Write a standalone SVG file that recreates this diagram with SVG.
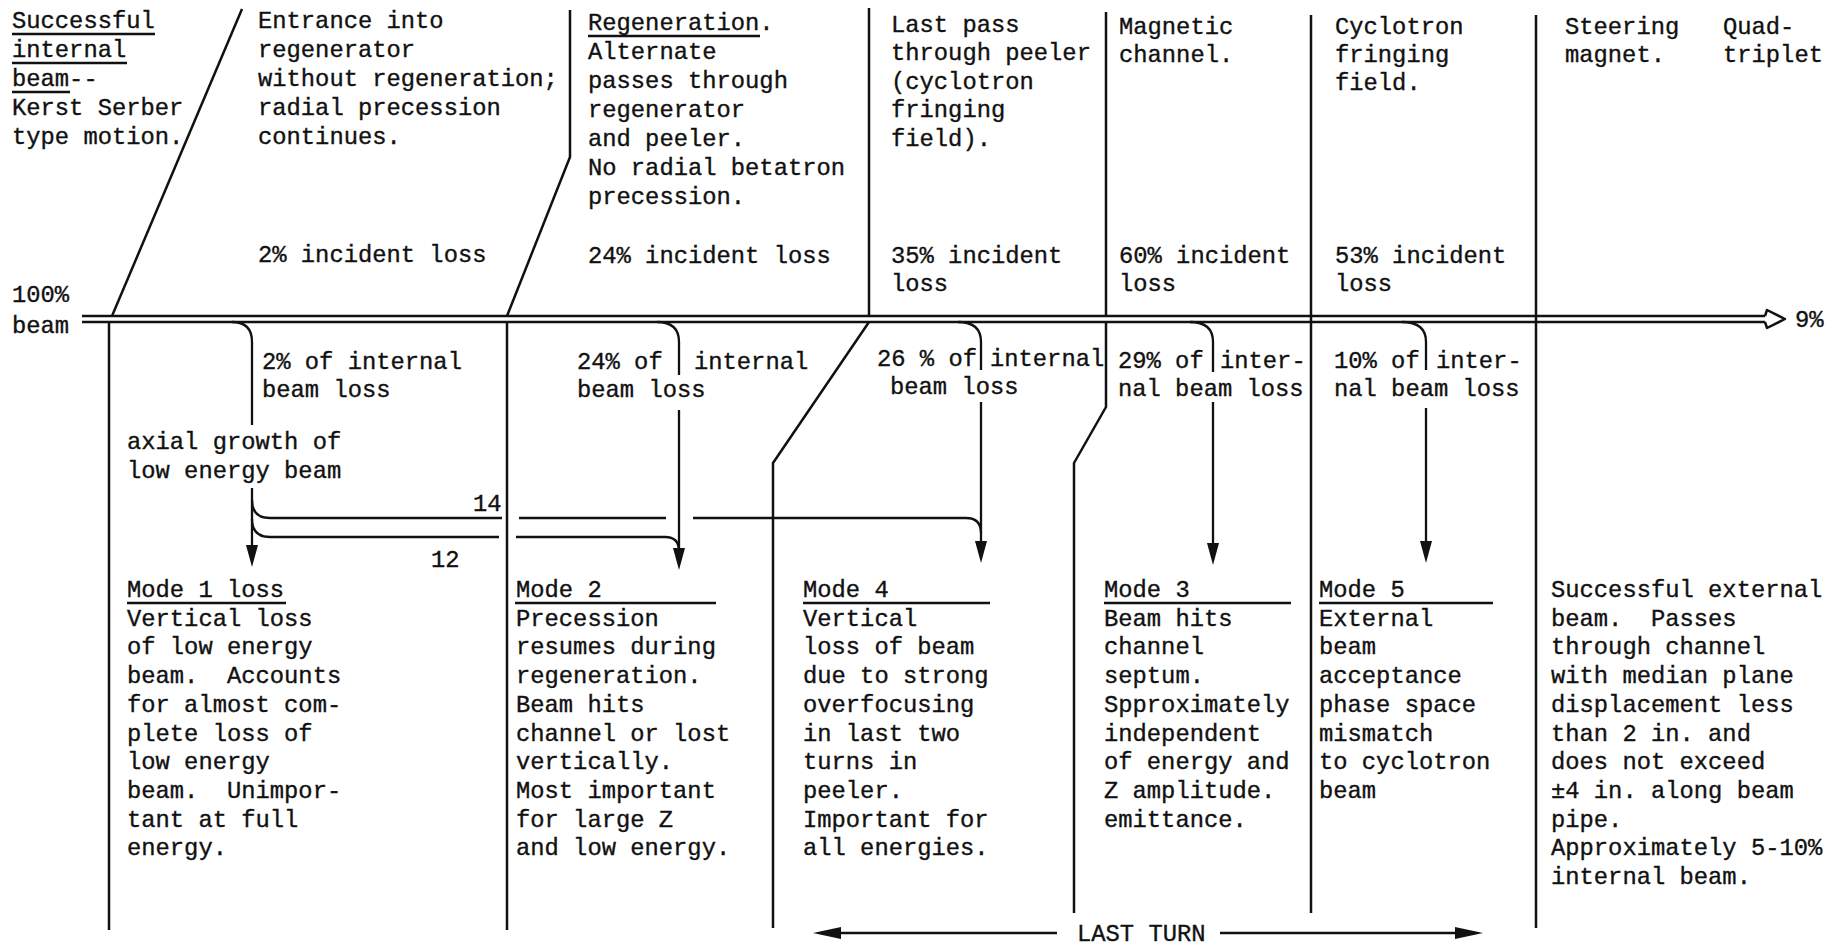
<svg xmlns="http://www.w3.org/2000/svg" xmlns:xlink="http://www.w3.org/1999/xlink" width="1835" height="945" viewBox="0 0 1835 945">
<style>
.t{font-family:"Liberation Mono","Courier New",monospace;font-size:23.8px;fill:#111;stroke:#111;stroke-width:0.35px;white-space:pre}
.ln{fill:none;stroke:#111;stroke-width:2.5;stroke-linecap:butt;stroke-linejoin:round}
.ar{fill:none;stroke:#111;stroke-width:2.3}
.ul{stroke:#111;stroke-width:2.6}
.hd{fill:#111;stroke:none}
</style>
<defs>
<path id="ahd" d="M0,0 L-6,-22 L6,-22 Z"/>
<path id="ahl" d="M0,0 L28,-6 L28,6 Z"/>
<path id="ahr" d="M0,0 L-28,-6 L-28,6 Z"/>
</defs>
<rect width="1835" height="945" fill="#fff"/>

<g id="dividers">
<path class="ln" d="M242,9 L112,316"/>
<path class="ln" d="M109,322 L109,930"/>
<path class="ln" d="M570,10 L570,157 L507,316"/>
<path class="ln" d="M507,322 L507,930"/>
<path class="ln" d="M869,8 L869,316"/>
<path class="ln" d="M869,322 L773,463 L773,928"/>
<path class="ln" d="M1106,12 L1106,316"/>
<path class="ln" d="M1106,322 L1106,407 L1074,463 L1074,913"/>
<path class="ln" d="M1311,15 L1311,913"/>
<path class="ln" d="M1536,15 L1536,928"/>
</g>

<g id="connectors">
<!-- main beam -->
<path class="ln" d="M82,316 L1765,316"/>
<path class="ln" d="M82,322 L1765,322"/>
<path class="ln" d="M1765,316 L1767,310 L1785,319 L1767,328 L1765,322"/>
<!-- mode 1 -->
<path class="ar" d="M232,322 Q252,322 252,342 L252,425"/>
<path class="ar" d="M252,488 L252,547"/>
<use xlink:href="#ahd" class="hd" x="252" y="567"/>
<path class="ar" d="M252,500 Q252,518 270,518 L502,518"/>
<path class="ar" d="M252,519 Q252,537 270,537 L499,537"/>
<!-- 12 line to mode 2 -->
<path class="ar" d="M516,537 L665,537 Q679,537 679,551"/>
<!-- mode 2 -->
<path class="ar" d="M657,322 Q679,322 679,342 L679,375"/>
<path class="ar" d="M679,410 L679,550"/>
<use xlink:href="#ahd" class="hd" x="679" y="570"/>
<!-- 14 line to mode 4 -->
<path class="ar" d="M519,518 L666,518"/>
<path class="ar" d="M693,518 L966,518 Q981,518 981,533"/>
<!-- mode 4 -->
<path class="ar" d="M958,322 Q981,322 981,342 L981,370"/>
<path class="ar" d="M981,402 L981,543"/>
<use xlink:href="#ahd" class="hd" x="981" y="563"/>
<!-- mode 3 -->
<path class="ar" d="M1190,322 Q1213,322 1213,342 L1213,372"/>
<path class="ar" d="M1213,402 L1213,545"/>
<use xlink:href="#ahd" class="hd" x="1213" y="565"/>
<!-- mode 5 -->
<path class="ar" d="M1402,322 Q1426,322 1426,342 L1426,370"/>
<path class="ar" d="M1426,408 L1426,543"/>
<use xlink:href="#ahd" class="hd" x="1426" y="563"/>
<!-- last turn -->
<path class="ar" d="M830,933 L1057,933"/>
<use xlink:href="#ahl" class="hd" x="813" y="933"/>
<path class="ar" d="M1220,933 L1460,933"/>
<use xlink:href="#ahr" class="hd" x="1483" y="933"/>
</g>

<g id="beam-labels">
<text class="t" x="12" y="302">100%</text>
<text class="t" x="12" y="333">beam</text>
<text class="t" x="1795" y="327">9%</text>
<text class="t" x="1077" y="941">LAST TURN</text>
<text class="t" x="473" y="511">14</text>
<text class="t" x="431" y="567">12</text>
</g>

<g id="stage-internal">
<text class="t"><tspan x="12" y="28">Successful</tspan><tspan x="12" y="57">internal</tspan><tspan x="12" y="86">beam--</tspan><tspan x="12" y="115">Kerst Serber</tspan><tspan x="12" y="144">type motion.</tspan></text>
<line class="ul" x1="12" y1="34" x2="155" y2="34"/>
<line class="ul" x1="12" y1="63" x2="127" y2="63"/>
<line class="ul" x1="12" y1="92" x2="70" y2="92"/>
</g>

<g id="stage-entrance">
<text class="t"><tspan x="258" y="28">Entrance into</tspan><tspan x="258" y="57">regenerator</tspan><tspan x="258" y="86">without regeneration;</tspan><tspan x="258" y="115">radial precession</tspan><tspan x="258" y="144">continues.</tspan></text>
<text class="t" x="258" y="262">2% incident loss</text>
</g>

<g id="stage-regeneration">
<text class="t"><tspan x="588" y="30">Regeneration.</tspan><tspan x="588" y="59">Alternate</tspan><tspan x="588" y="88">passes through</tspan><tspan x="588" y="117">regenerator</tspan><tspan x="588" y="146">and peeler.</tspan><tspan x="588" y="175">No radial betatron</tspan><tspan x="588" y="204">precession.</tspan></text>
<line class="ul" x1="588" y1="36" x2="760" y2="36"/>
<text class="t" x="588" y="263">24% incident loss</text>
</g>

<g id="stage-peeler">
<text class="t"><tspan x="891" y="32">Last pass</tspan><tspan x="891" y="60">through peeler</tspan><tspan x="891" y="89">(cyclotron</tspan><tspan x="891" y="117">fringing</tspan><tspan x="891" y="146">field).</tspan></text>
<text class="t"><tspan x="891" y="263">35% incident</tspan><tspan x="891" y="291">loss</tspan></text>
</g>

<g id="stage-channel">
<text class="t"><tspan x="1119" y="34">Magnetic</tspan><tspan x="1119" y="62">channel.</tspan></text>
<text class="t"><tspan x="1119" y="263">60% incident</tspan><tspan x="1119" y="291">loss</tspan></text>
</g>

<g id="stage-fringing">
<text class="t"><tspan x="1335" y="34">Cyclotron</tspan><tspan x="1335" y="62">fringing</tspan><tspan x="1335" y="90">field.</tspan></text>
<text class="t"><tspan x="1335" y="263">53% incident</tspan><tspan x="1335" y="291">loss</tspan></text>
</g>

<g id="stage-steering">
<text class="t"><tspan x="1565" y="34">Steering</tspan><tspan x="1565" y="62">magnet.</tspan></text>
<text class="t"><tspan x="1723" y="34">Quad-</tspan><tspan x="1723" y="62">triplet</tspan></text>
</g>

<g id="loss-labels">
<text class="t"><tspan x="262" y="369">2% of internal</tspan><tspan x="262" y="397">beam loss</tspan></text>
<text class="t"><tspan x="127" y="449">axial growth of</tspan><tspan x="127" y="478">low energy beam</tspan></text>
<text class="t"><tspan x="577" y="369">24% of</tspan><tspan x="694" y="369">internal</tspan><tspan x="577" y="397">beam loss</tspan></text>
<text class="t"><tspan x="877" y="366">26 % of</tspan><tspan x="990" y="366">internal</tspan><tspan x="890" y="394">beam loss</tspan></text>
<text class="t"><tspan x="1118" y="368">29% of</tspan><tspan x="1220" y="368">inter-</tspan><tspan x="1118" y="396">nal beam loss</tspan></text>
<text class="t"><tspan x="1334" y="368">10% of</tspan><tspan x="1436" y="368">inter-</tspan><tspan x="1334" y="396">nal beam loss</tspan></text>
</g>

<g id="mode-1">
<text class="t"><tspan x="127" y="597">Mode 1 loss</tspan><tspan x="127" y="625.7">Vertical loss</tspan><tspan x="127" y="654.4">of low energy</tspan><tspan x="127" y="683.1">beam.  Accounts</tspan><tspan x="127" y="711.8">for almost com-</tspan><tspan x="127" y="740.5">plete loss of</tspan><tspan x="127" y="769.2">low energy</tspan><tspan x="127" y="797.9">beam.  Unimpor-</tspan><tspan x="127" y="826.6">tant at full</tspan><tspan x="127" y="855.3">energy.</tspan></text>
<line class="ul" x1="127" y1="603" x2="286" y2="603"/>
</g>

<g id="mode-2">
<text class="t"><tspan x="516" y="597">Mode 2</tspan><tspan x="516" y="625.7">Precession</tspan><tspan x="516" y="654.4">resumes during</tspan><tspan x="516" y="683.1">regeneration.</tspan><tspan x="516" y="711.8">Beam hits</tspan><tspan x="516" y="740.5">channel or lost</tspan><tspan x="516" y="769.2">vertically.</tspan><tspan x="516" y="797.9">Most important</tspan><tspan x="516" y="826.6">for large Z</tspan><tspan x="516" y="855.3">and low energy.</tspan></text>
<line class="ul" x1="515" y1="603" x2="716" y2="603"/>
</g>

<g id="mode-4">
<text class="t"><tspan x="803" y="597">Mode 4</tspan><tspan x="803" y="625.7">Vertical</tspan><tspan x="803" y="654.4">loss of beam</tspan><tspan x="803" y="683.1">due to strong</tspan><tspan x="803" y="711.8">overfocusing</tspan><tspan x="803" y="740.5">in last two</tspan><tspan x="803" y="769.2">turns in</tspan><tspan x="803" y="797.9">peeler.</tspan><tspan x="803" y="826.6">Important for</tspan><tspan x="803" y="855.3">all energies.</tspan></text>
<line class="ul" x1="803" y1="603" x2="990" y2="603"/>
</g>

<g id="mode-3">
<text class="t"><tspan x="1104" y="597">Mode 3</tspan><tspan x="1104" y="625.7">Beam hits</tspan><tspan x="1104" y="654.4">channel</tspan><tspan x="1104" y="683.1">septum.</tspan><tspan x="1104" y="711.8">Spproximately</tspan><tspan x="1104" y="740.5">independent</tspan><tspan x="1104" y="769.2">of energy and</tspan><tspan x="1104" y="797.9">Z amplitude.</tspan><tspan x="1104" y="826.6">emittance.</tspan></text>
<line class="ul" x1="1104" y1="603" x2="1291" y2="603"/>
</g>

<g id="mode-5">
<text class="t"><tspan x="1319" y="597">Mode 5</tspan><tspan x="1319" y="625.7">External</tspan><tspan x="1319" y="654.4">beam</tspan><tspan x="1319" y="683.1">acceptance</tspan><tspan x="1319" y="711.8">phase space</tspan><tspan x="1319" y="740.5">mismatch</tspan><tspan x="1319" y="769.2">to cyclotron</tspan><tspan x="1319" y="797.9">beam</tspan></text>
<line class="ul" x1="1319" y1="603" x2="1493" y2="603"/>
</g>

<g id="external-beam">
<text class="t"><tspan x="1551" y="597">Successful external</tspan><tspan x="1551" y="625.7">beam.  Passes</tspan><tspan x="1551" y="654.4">through channel</tspan><tspan x="1551" y="683.1">with median plane</tspan><tspan x="1551" y="711.8">displacement less</tspan><tspan x="1551" y="740.5">than 2 in. and</tspan><tspan x="1551" y="769.2">does not exceed</tspan><tspan x="1551" y="797.9">±4 in. along beam</tspan><tspan x="1551" y="826.6">pipe.</tspan><tspan x="1551" y="855.3">Approximately 5-10%</tspan><tspan x="1551" y="884">internal beam.</tspan></text>
</g>
</svg>
